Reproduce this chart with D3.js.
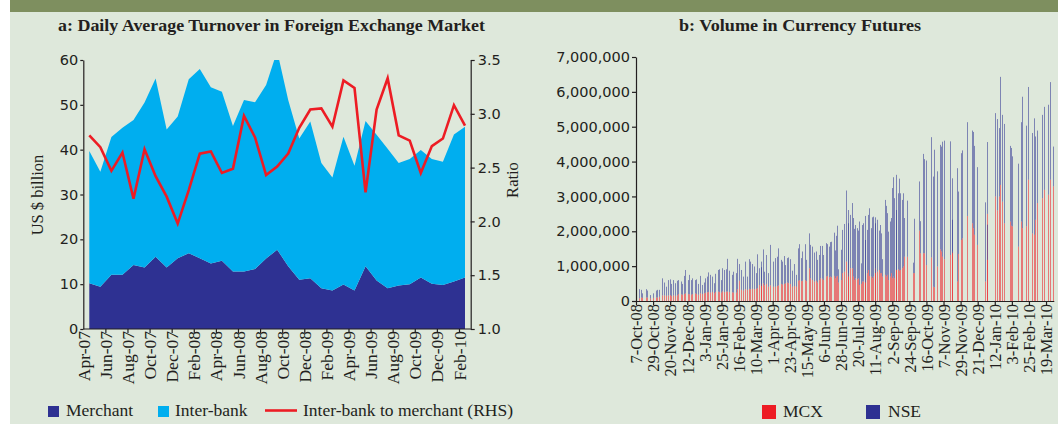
<!DOCTYPE html>
<html>
<head>
<meta charset="utf-8">
<script src="https://cdn.jsdelivr.net/npm/d3@7"></script>
<style>
  body { margin: 0; background: #fff; }
  svg text { fill: #231f20; }
  .tick line, .domain { stroke: #231f20; stroke-width: 1.2; }
</style>
</head>
<body>
<svg id="chart" width="1058" height="424"></svg>
<script>
// ---- panel a: monthly forex turnover (US $ billion) ----
var months = ["Apr-07","May-07","Jun-07","Jul-07","Aug-07","Sep-07","Oct-07","Nov-07","Dec-07","Jan-08",
              "Feb-08","Mar-08","Apr-08","May-08","Jun-08","Jul-08","Aug-08","Sep-08","Oct-08","Nov-08",
              "Dec-08","Jan-09","Feb-09","Mar-09","Apr-09","May-09","Jun-09","Jul-09","Aug-09","Sep-09",
              "Oct-09","Nov-09","Dec-09","Jan-10","Feb-10"];
var merchant = [10.2,9.4,12.1,12.1,14.3,13.7,16.1,13.7,15.8,16.9,15.8,14.6,15.2,12.8,12.8,13.4,15.7,17.7,14.0,11.0,
                11.3,9.1,8.6,9.9,8.6,14.0,10.8,9.1,9.7,10.0,11.5,10.1,9.8,10.6,11.5];
var interbank = [29.5,25.7,30.7,32.8,32.3,36.8,39.8,30.8,31.6,38.8,42.2,39.3,37.7,32.5,38.3,37.2,38.7,44.3,37.1,31.5,
                 35.0,27.9,25.2,33.0,27.8,32.4,32.5,31.1,27.3,27.9,28.4,27.8,27.5,32.8,33.6];
// inter-bank to merchant ratio, right hand scale
var ratio = [2.80,2.69,2.47,2.64,2.21,2.67,2.42,2.23,1.98,2.29,2.63,2.65,2.45,2.49,2.98,2.78,2.43,2.51,2.63,2.87,
             3.04,3.05,2.88,3.31,3.24,2.27,3.04,3.33,2.80,2.75,2.45,2.70,2.77,3.08,2.89];

// ---- panel b: daily volume in currency futures (thousand contracts) ----
var futStart = new Date(2008, 9, 7);
// trading day, counted in days from 7-Oct-08
var barDay = [1,4,7,9,13,15,19,23,26,28,30,34,37,39,42,44,46,48,51,53,55,58,60,63,64,67,69,71,73,76,78,
  81,83,85,88,90,92,94,96,99,101,103,106,107,110,112,114,116,118,121,124,126,129,131,133,
  136,139,141,143,146,148,150,153,155,157,159,161,162,164,166,168,170,173,177,180,182,184,187,189,191,193,
  195,197,199,201,204,207,209,211,213,215,218,220,223,225,227,230,232,234,236,238,240,242,245,246,249,250,
  252,255,257,258,260,261,264,266,268,
  271,273,274,276,279,280,281,283,285,286,288,290,292,293,295,296,298,299,301,303,304,306,308,309,311,313,
  315,316,318,321,322,324,325,328,329,330,331,333,335,336,338,339,341,343,344,346,349,357,359,365,366,370,
  372,374,380,383,385,388,392,393,395,397,
  405,407,408,414,415,419,421,427,433,435,436,440,450,452,453,463,465,468,469,472,475,482,483,485,492,496,
  498,503,506,511,513,514,517,523,526,531,534,538];
var mcxVol = [80,80,100,90,100,100,70,90,100,100,120,160,160,150,160,170,140,160,150,160,200,190,180,200,220,200,190,180,200,220,200,
  180,220,200,220,240,250,260,240,260,220,260,270,260,240,280,260,270,270,260,250,240,240,340,580,
  320,300,340,320,350,340,350,340,350,370,460,490,430,510,450,490,410,450,410,410,430,450,490,470,490,510,
  530,510,490,410,430,410,580,600,570,580,600,570,940,650,600,560,580,530,600,650,640,600,700,720,680,700,
  680,720,650,700,720,530,600,800,840,
  1130,800,700,940,940,700,600,650,620,650,460,490,560,560,530,600,800,890,720,700,650,700,940,800,840,890,
  800,800,700,750,700,750,600,700,800,650,700,650,890,890,910,870,890,940,990,1270,1270,800,800,2020,1370,1370,
  1370,1030,1250,410,390,990,1480,1420,1270,1200,
  1320,1370,1420,560,1350,1750,1800,2440,2230,2090,1900,1610,560,1180,2500,3000,2600,3000,3330,2850,2230,2280,
  2160,2140,1560,2280,2090,2140,3480,1940,1900,2330,2810,2950,3190,3050,3480,3290];
var nseVol = [140,260,220,130,240,200,100,130,200,220,200,490,370,260,440,450,350,440,360,420,400,370,310,520,670,400,560,420,450,380,420,
  310,500,260,310,410,450,560,510,440,290,520,620,650,360,660,630,640,940,610,500,600,560,870,480,
  570,400,790,380,850,790,710,650,450,970,480,640,540,970,390,830,390,1160,720,820,840,1060,690,660,800,520,
  700,740,710,460,630,340,930,1030,660,840,1030,610,1000,960,960,830,840,650,720,930,940,720,960,910,880,990,
  1020,1240,800,1170,1440,380,870,1240,1370,
  2040,1810,1530,1530,1870,1680,1470,1530,1470,1370,1820,590,1620,1670,1220,1840,1240,1580,1940,1390,1750,1720,1290,1600,1490,1130,
  1380,1140,500,2150,2030,1770,1390,1580,1580,2590,2850,2300,1720,2730,2180,2640,2200,1960,2100,1110,1610,300,1560,1410,920,2850,
  2700,3000,3450,3160,3950,2730,3000,3010,3300,3400,
  3260,2150,910,3250,1790,2490,2520,2690,2660,2760,2550,2230,2270,1010,2060,2390,2620,1960,3100,2490,2850,2170,
  2230,2010,2380,2850,3770,2890,2660,2880,3340,2390,2080,2390,2380,2580,2800,1140];
var futTickLabels = ["7-Oct-08","29-Oct-08","20-Nov-08","12-Dec-08","3-Jan-09","25-Jan-09","16-Feb-09","10-Mar-09",
  "1-Apr-09","23-Apr-09","15-May-09","6-Jun-09","28-Jun-09","20-Jul-09","11-Aug-09","2-Sep-09","24-Sep-09",
  "16-Oct-09","7-Nov-09","29-Nov-09","21-Dec-09","12-Jan-10","3-Feb-10","25-Feb-10","19-Mar-10"];

var serif = "'Liberation Serif', serif";
var sans = "'DejaVu Sans', sans-serif";

var svg = d3.select("#chart");

// page background, the white margin and the green strip on top
svg.append("rect").attr("width", 1058).attr("height", 424).attr("fill", "#dee8db");
svg.append("rect").attr("width", 10).attr("height", 424).attr("fill", "#fff");
svg.append("rect").attr("x", 10).attr("width", 1048).attr("height", 12).attr("fill", "#7e8f5f");

// ================= panel a =================
var xA = d3.scalePoint().domain(months).range([89.3, 465]);
var yA = d3.scaleLinear().domain([0, 60]).range([329, 60]);
var yR = d3.scaleLinear().domain([1, 3.5]).range([329, 60]);

svg.append("clipPath").attr("id", "clipA")
  .append("rect").attr("x", 83).attr("y", 60).attr("width", 388).attr("height", 269);

var rowsA = months.map(function(m, i) {
  return { month: m, merchant: merchant[i], interbank: interbank[i] };
});
var stackA = d3.stack().keys(["merchant", "interbank"])(rowsA);
var areaA = d3.area()
  .x(function(d) { return xA(d.data.month); })
  .y0(function(d) { return yA(d[0]); })
  .y1(function(d) { return yA(d[1]); });
var colorsA = { merchant: "#2e3192", interbank: "#00aeef" };

var plotA = svg.append("g").attr("clip-path", "url(#clipA)");
plotA.selectAll("path.area")
  .data(stackA)
  .enter().append("path")
  .attr("class", "area")
  .attr("d", areaA)
  .attr("fill", function(s) { return colorsA[s.key]; });

var ratioLine = d3.line()
  .x(function(d, i) { return xA(months[i]); })
  .y(function(d) { return yR(d); });
plotA.append("path")
  .datum(ratio)
  .attr("d", ratioLine)
  .attr("fill", "none")
  .attr("stroke", "#ed1c24")
  .attr("stroke-width", 2.6);

// axes
var gyA = svg.append("g").attr("transform", "translate(83.3,0)")
  .call(d3.axisLeft(yA).tickValues(d3.range(0, 61, 10)).tickSize(3).tickSizeOuter(0).tickPadding(2));
var gyR = svg.append("g").attr("transform", "translate(470.7,0)")
  .call(d3.axisRight(yR).tickValues(d3.range(1, 3.51, 0.5)).tickFormat(d3.format(".1f"))
    .tickSize(4).tickSizeOuter(0).tickPadding(3));
[gyA, gyR].forEach(function(g) {
  g.selectAll("text").attr("font-family", sans).attr("font-size", 14.5);
});

var gxA = svg.append("g").attr("transform", "translate(0,329)")
  .call(d3.axisBottom(xA).tickValues(months.filter(function(m, i) { return i % 2 === 0; }))
    .tickSize(0).tickPadding(0));
gxA.select(".domain").remove();
gxA.selectAll("text")
  .attr("font-family", serif).attr("font-size", 17.5)
  .attr("transform", "rotate(-90)")
  .attr("text-anchor", "end")
  .attr("x", -2).attr("y", 0).attr("dy", "0");
gxA.append("line").attr("x1", 83.3).attr("x2", 470.7)
  .attr("stroke", "#231f20").attr("stroke-width", 1.2);
// tick marks sit between the months
var betweenA = d3.range(1, months.length - 1, 2).map(function(i) {
  return (xA(months[i]) + xA(months[i + 1])) / 2;
});
gxA.selectAll("line.mark").data(betweenA).enter().append("line")
  .attr("class", "mark")
  .attr("x1", function(d) { return d; }).attr("x2", function(d) { return d; })
  .attr("y1", 0).attr("y2", 4)
  .attr("stroke", "#231f20").attr("stroke-width", 1.2);

svg.append("text").attr("x", 271.5).attr("y", 31)
  .attr("text-anchor", "middle").attr("font-family", serif).attr("font-weight", "bold")
  .attr("font-size", 17).attr("textLength", 427).attr("lengthAdjust", "spacingAndGlyphs")
  .text("a: Daily Average Turnover in Foreign Exchange Market");

svg.append("text").attr("transform", "translate(43,195) rotate(-90)")
  .attr("text-anchor", "middle").attr("font-family", serif).attr("font-size", 16.5)
  .text("US $ billion");
svg.append("text").attr("transform", "translate(518,180) rotate(-90)")
  .attr("text-anchor", "middle").attr("font-family", serif).attr("font-size", 16.5)
  .text("Ratio");

// legend a
var legA = svg.append("g").attr("font-family", serif).attr("font-size", 17.5);
legA.append("rect").attr("x", 48).attr("y", 406).attr("width", 11).attr("height", 11).attr("fill", "#2e3192");
legA.append("text").attr("x", 66).attr("y", 416).text("Merchant");
legA.append("rect").attr("x", 158).attr("y", 406).attr("width", 11).attr("height", 11).attr("fill", "#00aeef");
legA.append("text").attr("x", 175).attr("y", 416).text("Inter-bank");
legA.append("line").attr("x1", 265).attr("x2", 297).attr("y1", 410.5).attr("y2", 410.5)
  .attr("stroke", "#ed1c24").attr("stroke-width", 2.6);
legA.append("text").attr("x", 303).attr("y", 416).text("Inter-bank to merchant (RHS)");

// ================= panel b =================
var xB = d3.scaleTime().domain([futStart, d3.timeDay.offset(futStart, 538)]).range([636, 1053.8]);
var yB = d3.scaleLinear().domain([0, 7000000]).range([301, 57]);

var rowsB = barDay.map(function(d, i) {
  return { date: d3.timeDay.offset(futStart, d), mcx: mcxVol[i] * 1000, nse: nseVol[i] * 1000 };
});
var stackB = d3.stack().keys(["mcx", "nse"])(rowsB);
var colorsB = { mcx: "#ed1c24", nse: "#2e3192" };

svg.append("g").selectAll("g")
  .data(stackB)
  .enter().append("g")
  .attr("fill", function(s) { return colorsB[s.key]; })
  .attr("fill-opacity", 0.55)
  .selectAll("rect")
  .data(function(s) { return s; })
  .enter().append("rect")
  .attr("x", function(d) { return Math.floor(xB(d.data.date)); })
  .attr("width", 1)
  .attr("y", function(d) { return yB(d[1]); })
  .attr("height", function(d) { return yB(d[0]) - yB(d[1]); });

var gyB = svg.append("g").attr("transform", "translate(636,0)")
  .call(d3.axisLeft(yB).tickValues(d3.range(0, 7000001, 1000000)).tickFormat(d3.format(","))
    .tickSize(4).tickSizeOuter(0).tickPadding(2));
gyB.selectAll("text").attr("font-family", sans).attr("font-size", 14.5);

var futTickDates = futTickLabels.map(function(l, i) { return d3.timeDay.offset(futStart, 22 * i); });
var gxB = svg.append("g").attr("transform", "translate(0,301)")
  .call(d3.axisBottom(xB).tickValues(futTickDates)
    .tickFormat(function(d, i) { return futTickLabels[i]; })
    .tickSize(4).tickSizeOuter(0));
gxB.selectAll("text")
  .attr("font-family", serif).attr("font-size", 16.5)
  .attr("transform", "rotate(-90)")
  .attr("text-anchor", "end")
  .attr("x", -3).attr("y", 0).attr("dy", "0.35em");

svg.append("text").attr("x", 800).attr("y", 31)
  .attr("text-anchor", "middle").attr("font-family", serif).attr("font-weight", "bold")
  .attr("font-size", 17).attr("textLength", 242).attr("lengthAdjust", "spacingAndGlyphs")
  .text("b: Volume in Currency Futures");

// legend b
var legB = svg.append("g").attr("font-family", serif).attr("font-size", 17.5);
legB.append("rect").attr("x", 762).attr("y", 405).attr("width", 14).attr("height", 14).attr("fill", "#ed1c24");
legB.append("text").attr("x", 783).attr("y", 417).text("MCX");
legB.append("rect").attr("x", 866).attr("y", 405).attr("width", 14).attr("height", 14).attr("fill", "#2e3192");
legB.append("text").attr("x", 888).attr("y", 417).text("NSE");
</script>
</body>
</html>
